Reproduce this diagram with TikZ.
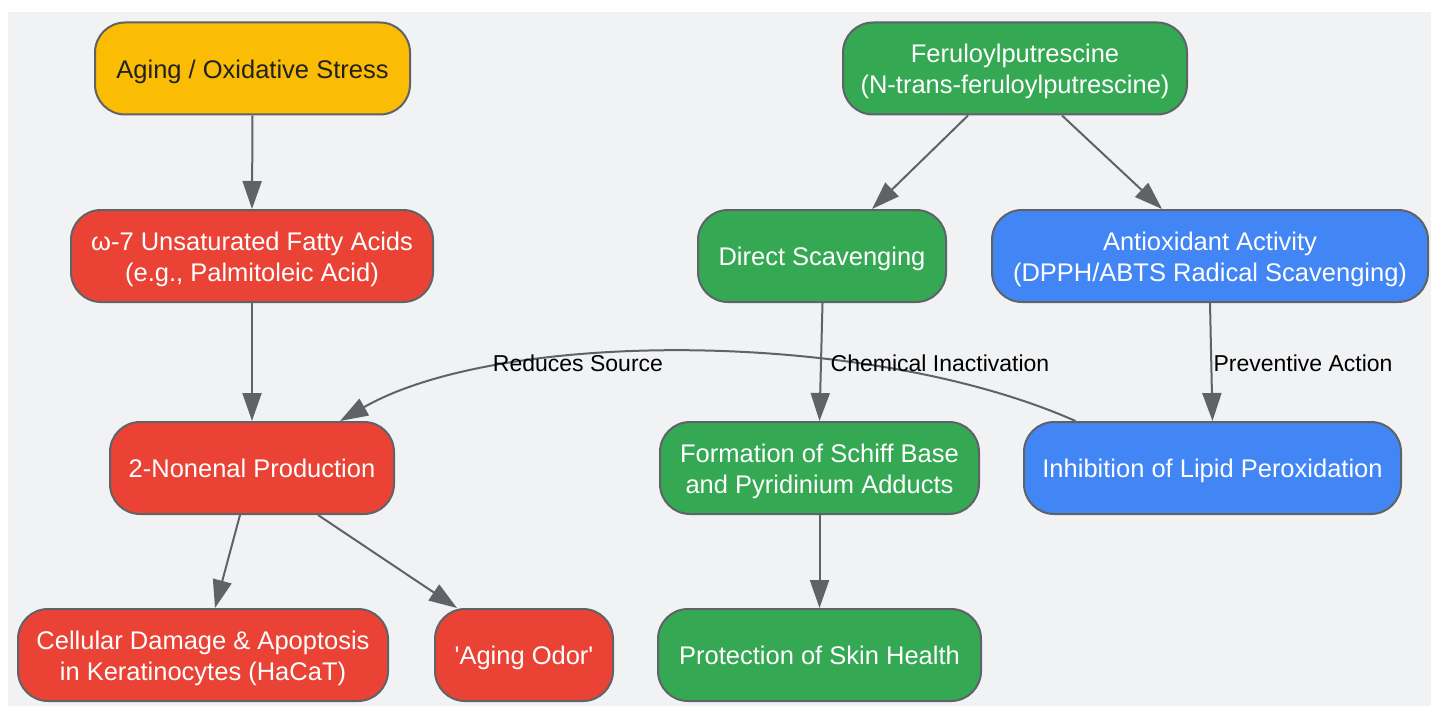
\documentclass[tikz,border=0pt]{standalone}
\usepackage{fontspec}
\setmainfont{Liberation Sans}
\usetikzlibrary{arrows.meta,calc}
\definecolor{bggray}{HTML}{F1F2F4}
\definecolor{edgegray}{HTML}{5F6368}
\definecolor{gyellow}{HTML}{FBBC04}
\definecolor{gred}{HTML}{EA4335}
\definecolor{ggreen}{HTML}{34A853}
\definecolor{gblue}{HTML}{4285F4}
\definecolor{darktext}{HTML}{202124}
\newcommand\ms{\rule[-5pt]{0pt}{29.3pt}}
\tikzset{
  box/.style={draw=edgegray, line width=2pt, rounded corners=30pt, inner sep=0pt,
    minimum height=92pt, align=center, font=\fontsize{25.5}{31}\selectfont, text=white},
  yellowbox/.style={box, fill=gyellow, text=darktext},
  redbox/.style={box, fill=gred},
  greenbox/.style={box, fill=ggreen},
  bluebox/.style={box, fill=gblue},
  conn/.style={draw=edgegray, line width=2pt, -{Triangle[length=28pt,width=19pt]}, color=edgegray},
  elabel/.style={font=\fontsize{23}{27}\selectfont, text=black, inner sep=0pt}
}
\begin{document}
\begin{tikzpicture}[x=1pt,y={(0pt,-1pt)}]
\useasboundingbox (0,0) rectangle (1431,706);
\fill[bggray] (8,12) rectangle (1431,706);

\node[yellowbox, minimum width=315pt] (aging) at (252.5,68.5) {\ms Aging / Oxidative Stress};
\node[redbox, minimum width=362pt] (omega) at (252,256) {\ms ω-7 Unsaturated Fatty Acids\\\ms (e.g., Palmitoleic Acid)};
\node[redbox, minimum width=284pt] (non) at (252,468) {\ms 2-Nonenal Production};
\node[redbox, minimum width=370pt] (cell) at (203,655) {\ms Cellular Damage \& Apoptosis\\\ms in Keratinocytes (HaCaT)};
\node[redbox, minimum width=178pt] (odor) at (524,655) {\ms\textquotesingle Aging Odor\textquotesingle};

\node[greenbox, minimum width=344pt] (fer) at (1015,68.5) {\ms Feruloylputrescine\\\ms (N-trans-feruloylputrescine)};
\node[greenbox, minimum width=248pt] (dir) at (822,256) {\ms Direct Scavenging};
\node[bluebox, minimum width=436pt] (anti) at (1210,256) {\ms Antioxidant Activity\\\ms (DPPH/ABTS Radical Scavenging)};
\node[greenbox, minimum width=319pt] (form) at (819.5,468) {\ms Formation of Schiff Base\\\ms and Pyridinium Adducts};
\node[bluebox, minimum width=377pt] (inh) at (1212.5,468) {\ms Inhibition of Lipid Peroxidation};
\node[greenbox, minimum width=323pt] (prot) at (819.5,655) {\ms Protection of Skin Health};

\draw[conn] (aging.south) -- (omega.north);
\draw[conn] (omega.south) -- (non.north);
\draw[conn] ([xshift=-12pt]non.south) -- ([xshift=12pt]cell.north);
\draw[conn] ([xshift=66pt]non.south) -- ([xshift=-67pt]odor.north);
\draw[conn] ([xshift=-47pt]fer.south) -- ([xshift=50pt]dir.north);
\draw[conn] ([xshift=47pt]fer.south) -- ([xshift=-48pt]anti.north);
\draw[conn] ([xshift=0.5pt]dir.south) -- (form.north);
\draw[conn] (anti.south) -- (inh.north);
\draw[conn] (form.south) -- (prot.north);
\draw[conn] ([xshift=-137pt]inh.north) .. controls (868,329) and (500,329) .. ([xshift=88pt]non.north);

\node[elabel] (l1) at (578,363) {Reduces Source};
\node[elabel] (l2) at (940,363) {Chemical Inactivation};
\node[elabel] (l3) at (1303,363) {Preventive Action};
\end{tikzpicture}
\end{document}
